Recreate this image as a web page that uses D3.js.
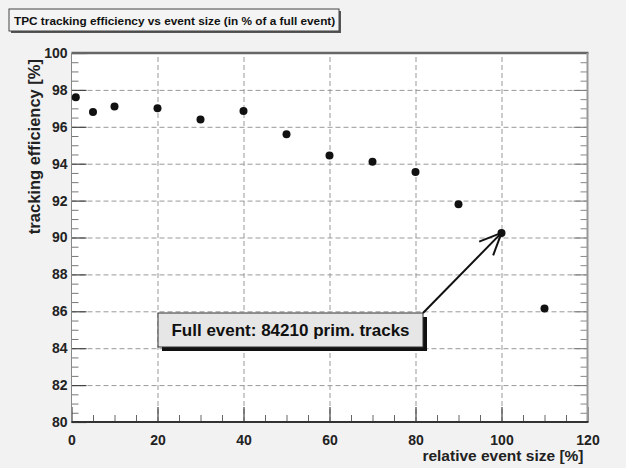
<!DOCTYPE html>
<html><head><meta charset="utf-8">
<script src="https://cdn.jsdelivr.net/npm/d3@7"></script>
<style>body{margin:0;background:#f2f2f2;}svg{display:block;}text{font-family:"Liberation Sans",Arial,sans-serif;}</style>
</head><body>
<script>
const eventSize = [1,5,10,20,30,40,50,60,70,80,90,100,110];
const efficiency = [97.6,96.8,97.1,97.0,96.4,96.85,95.6,94.45,94.1,93.55,91.8,90.25,86.15];
const xTicks = [0,20,40,60,80,100,120];
const yTicks = [80,82,84,86,88,90,92,94,96,98,100];
const titleText = "TPC tracking efficiency vs event size (in % of a full event)";
const xTitle = "relative event size [%]";
const yTitle = "tracking efficiency [%]";
const noteText = "Full event: 84210 prim. tracks";
const notePoint = [100, 90.25];

const W=626,H=468, L=71.5, R=587.5, T=53, B=422;
const svg=d3.select("body").append("svg").attr("width",W).attr("height",H);
svg.append("rect").attr("width",W).attr("height",H).attr("fill","#f2f2f2");
const x=d3.scaleLinear().domain([0,120]).range([L,R]);
const y=d3.scaleLinear().domain([80,100]).range([B,T]);

svg.append("rect").attr("x",L).attr("y",T).attr("width",R-L).attr("height",B-T).attr("fill","#fff");

// grid
const gx=svg.append("g").attr("transform",`translate(0,${B})`)
 .call(d3.axisBottom(x).tickValues(xTicks.slice(1,-1)).tickSize(-(B-T)).tickFormat(""));
const gy=svg.append("g").attr("transform",`translate(${L},0)`)
 .call(d3.axisLeft(y).tickValues(yTicks.slice(1,-1)).tickSize(-(R-L)).tickFormat(""));
[gx,gy].forEach(g=>{g.select(".domain").remove();g.selectAll("line").attr("stroke","#999").attr("stroke-dasharray","5,3");});

// minor ticks
const xMinor=d3.range(0,121,5).filter(v=>v%20!==0);
const yMinor=d3.range(80,100.01,0.5).filter(v=>Math.abs(v/2-Math.round(v/2))>1e-6);
function tickStyle(g,c,w){g.select(".domain").remove();g.selectAll("line").attr("stroke",c).attr("stroke-width",w);}
tickStyle(svg.append("g").attr("transform",`translate(0,${B})`).call(d3.axisBottom(x).tickValues(xMinor).tickSize(-7).tickFormat("")),"#666",1);
tickStyle(svg.append("g").attr("transform",`translate(${L},0)`).call(d3.axisLeft(y).tickValues(yMinor).tickSize(-7).tickFormat("")),"#777",1);
tickStyle(svg.append("g").attr("transform",`translate(${R},0)`).call(d3.axisRight(y).tickValues(yMinor).tickSize(-7).tickFormat("")),"#888",1);
tickStyle(svg.append("g").attr("transform",`translate(${R},0)`).call(d3.axisRight(y).tickValues(yTicks).tickSize(-14).tickFormat("")),"#777",1);

// major axes
const ax=svg.append("g").attr("transform",`translate(0,${B})`)
 .call(d3.axisBottom(x).tickValues(xTicks).tickSize(-15).tickPadding(23).tickFormat(d3.format("d")));
ax.select(".domain").remove();
ax.selectAll("line").attr("stroke","#444").attr("stroke-width",1.2);
ax.selectAll("text").attr("font-size",14).attr("font-weight","bold").attr("fill","#222").attr("dy","0");
const ay=svg.append("g").attr("transform",`translate(${L},0)`)
 .call(d3.axisLeft(y).tickValues(yTicks).tickSize(-15).tickPadding(4).tickFormat(d3.format("d")));
ay.select(".domain").remove();
ay.selectAll("line").attr("stroke","#444").attr("stroke-width",1.2);
ay.selectAll("text").attr("font-size",14).attr("font-weight","bold").attr("fill","#222");

// frame lines
svg.append("line").attr("x1",L).attr("x2",R+1).attr("y1",T).attr("y2",T).attr("stroke","#666").attr("stroke-width",2.5);
svg.append("line").attr("x1",R).attr("x2",R).attr("y1",T).attr("y2",B).attr("stroke","#999").attr("stroke-width",2);
svg.append("line").attr("x1",L).attr("x2",L).attr("y1",T).attr("y2",B).attr("stroke","#888").attr("stroke-width",1);
svg.append("line").attr("x1",L).attr("x2",R+1).attr("y1",B).attr("y2",B).attr("stroke","#333").attr("stroke-width",2);

// axis titles
svg.append("text").attr("x",R-4).attr("y",461).attr("text-anchor","end").attr("font-size",15.5).attr("font-weight","bold").attr("fill","#222").text(xTitle);
svg.append("text").attr("transform",`translate(40,${T+6}) rotate(-90)`).attr("text-anchor","end").attr("font-size",16.5).attr("font-weight","bold").attr("fill","#222").text(yTitle);

// points
svg.append("g").selectAll("circle").data(eventSize).join("circle")
 .attr("cx",(d)=>x(d)).attr("cy",(d,i)=>y(efficiency[i])).attr("r",4).attr("fill","#111");

// annotation
const bx=158,by=313,bw=265,bh=34;
svg.append("rect").attr("x",bx+4).attr("y",by+4).attr("width",bw).attr("height",bh).attr("fill","#111");
svg.append("rect").attr("x",bx).attr("y",by).attr("width",bw).attr("height",bh).attr("fill","#e6e6e6").attr("stroke","#333").attr("stroke-width",1);
svg.append("text").attr("x",bx+bw/2).attr("y",by+23).attr("text-anchor","middle").attr("font-size",17).attr("font-weight","bold").attr("fill","#111").text(noteText);
const tx=x(notePoint[0]),ty=y(notePoint[1]), sx=bx+bw, sy=by;
svg.append("line").attr("x1",sx).attr("y1",sy).attr("x2",tx).attr("y2",ty).attr("stroke","#111").attr("stroke-width",2);
const ang=Math.atan2(sy-ty,sx-tx), al=24, aa=0.42;
[ang-aa,ang+aa].forEach(a=>svg.append("line").attr("x1",tx).attr("y1",ty)
 .attr("x2",tx+al*Math.cos(a)).attr("y2",ty+al*Math.sin(a)).attr("stroke","#111").attr("stroke-width",2));

// title box
svg.append("rect").attr("x",11).attr("y",11).attr("width",330).attr("height",22).attr("fill","#555");
svg.append("rect").attr("x",9).attr("y",9).attr("width",330).attr("height",22).attr("fill","#f4f4f4").attr("stroke","#444").attr("stroke-width",1);
svg.append("text").attr("x",14).attr("y",25).attr("font-size",11.8).attr("font-weight","bold").attr("fill","#111").text(titleText);
</script>
</body></html>
